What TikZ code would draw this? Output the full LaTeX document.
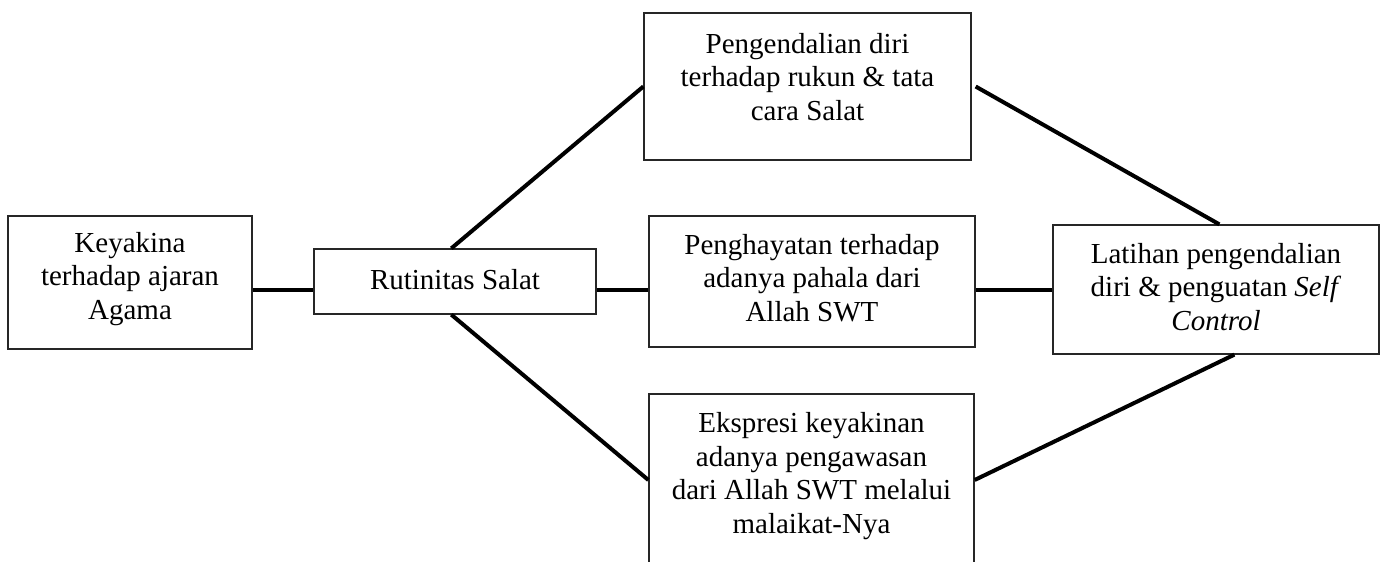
\documentclass[tikz,border=0pt]{standalone}
\usepackage{fontspec}
\setmainfont{Liberation Serif}
\begin{document}
\begin{tikzpicture}[x=1pt,y=-1pt,
  box/.style={draw=black!85, line width=1.3pt, rectangle, inner sep=0pt},
  txt/.style={align=center, inner sep=0pt, font=\fontsize{29}{33.5}\selectfont},
  conn/.style={line width=4pt, black}]
\useasboundingbox (0,0) rectangle (1385,562);
% boxes
\node[box, minimum width=244pt, minimum height=133pt] (b1) at (130,282.5) {};
\node[box, minimum width=282pt, minimum height=65pt] (b2) at (455,281.5) {};
\node[box, minimum width=327pt, minimum height=147pt] (b3) at (807.5,86.5) {};
\node[box, minimum width=326pt, minimum height=131pt] (b4) at (812,281.5) {};
\node[box, minimum width=326pt, minimum height=129pt] (b5) at (1216,289.5) {};
\node[box, minimum width=325pt, minimum height=186pt] (b6) at (811.5,487) {};
% texts
\node[txt] (t1) at (130,279) {Keyakina\\terhadap ajaran\\Agama};
\node[txt] (t2) at (455,280) {Rutinitas Salat};
\node[txt] (t3) at (807.5,77) {Pengendalian diri\\terhadap rukun \& tata\\cara Salat};
\node[txt] (t4) at (812,278) {Penghayatan terhadap\\adanya pahala dari\\Allah SWT};
\node[txt] (t5) at (1216,287) {Latihan pengendalian\\diri \& penguatan \textit{Self}\\\textit{Control}};
\node[txt] (t6) at (811.5,476) {Ekspresi keyakinan\\adanya pengawasan\\dari Allah SWT melalui\\malaikat-Nya};
% connectors
\draw[conn] ([yshift=-7pt]b1.east) -- ([yshift=-8pt]b2.west);
\draw[conn] ([yshift=-8pt]b2.east) -- ([yshift=-8pt]b4.west);
\draw[conn] ([yshift=-8pt]b4.east) -- (b5.west);
\draw[conn] ([xshift=138pt]b2.north west) -- (b3.west);
\draw[conn] ([xshift=138pt]b2.south west) -- ([yshift=7pt]b6.west);
\draw[conn] ([xshift=4pt]b3.east) -- ([xshift=167pt]b5.north west);
\draw[conn] ([yshift=7pt]b6.east) -- ([xshift=182pt]b5.south west);
\end{tikzpicture}
\end{document}
